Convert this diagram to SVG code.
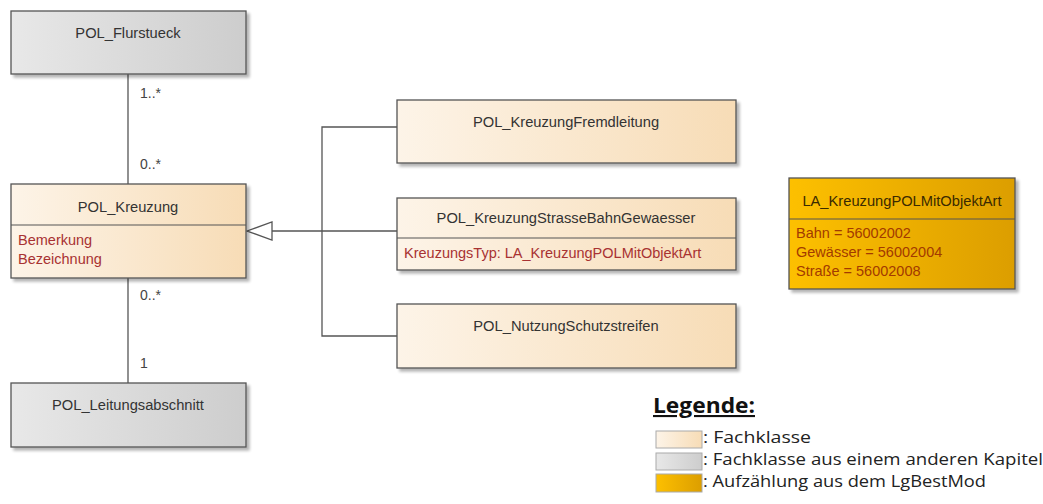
<svg xmlns="http://www.w3.org/2000/svg" width="1043" height="504" viewBox="0 0 1043 504">
<defs>
<linearGradient id="gBeige" x1="0" y1="0" x2="1" y2="0">
<stop offset="0" stop-color="#fdf4e8"/>
<stop offset="1" stop-color="#f7dcb6"/>
</linearGradient>
<linearGradient id="gGray" x1="0" y1="0" x2="1" y2="0">
<stop offset="0" stop-color="#e8e8e8"/>
<stop offset="1" stop-color="#cdcdcd"/>
</linearGradient>
<linearGradient id="gOrange" x1="0" y1="0" x2="1" y2="0">
<stop offset="0" stop-color="#fdc000"/>
<stop offset="1" stop-color="#dc9e00"/>
</linearGradient>
<filter id="sh" x="-5%" y="-5%" width="115%" height="130%">
<feGaussianBlur in="SourceAlpha" stdDeviation="1.5"/>
<feOffset dx="3" dy="3" result="b"/>
<feComponentTransfer><feFuncA type="linear" slope="0.3"/></feComponentTransfer>
<feMerge><feMergeNode/><feMergeNode in="SourceGraphic"/></feMerge>
</filter>
</defs>
<style>
.box{stroke:#555;stroke-width:1.3;filter:url(#sh)}
.beige{fill:url(#gBeige)}
.gray{fill:url(#gGray)}
.orange{fill:url(#gOrange)}
.div{stroke:#555;stroke-width:1.2}
.t{font-family:"Liberation Sans",Arial,sans-serif;font-size:14.7px;fill:#333}
.c{text-anchor:middle}
.a{font-family:"Liberation Sans",Arial,sans-serif;font-size:14.5px;fill:#a83232}
.ea{font-family:"Liberation Sans",Arial,sans-serif;font-size:14.5px;fill:#a33a00}
.m{font-family:"Liberation Sans",Arial,sans-serif;font-size:14px;fill:#444}
.ln{stroke:#555;stroke-width:1.3;fill:none}
.lg{font-family:"Open Sans","Liberation Sans",sans-serif;font-size:16px;fill:#222}
</style>
<rect width="1043" height="504" fill="#fff"/>

<g id="connectors">
<line class="ln" x1="128" y1="74" x2="128" y2="184"/>
<text class="m" x="140" y="98">1..*</text>
<text class="m" x="140" y="169">0..*</text>
<line class="ln" x1="128" y1="278" x2="128" y2="383"/>
<text class="m" x="140" y="300">0..*</text>
<text class="m" x="140" y="368">1</text>
<path class="ln" d="M397 127 H322 V336 H397"/>
<line class="ln" x1="272" y1="231" x2="397" y2="231"/>
<polygon points="247,231 272,222 272,240" fill="#fff" stroke="#555" stroke-width="1.3"/>
</g>

<g id="POL_Flurstueck">
<rect class="box gray" x="11" y="11" width="235" height="63"/>
<text class="t c" x="128" y="38">POL_Flurstueck</text>
</g>

<g id="POL_Kreuzung">
<rect class="box beige" x="11" y="184" width="235" height="94"/>
<line class="div" x1="11" y1="225" x2="246" y2="225"/>
<text class="t c" x="128" y="212">POL_Kreuzung</text>
<text class="a" x="18" y="245">Bemerkung</text>
<text class="a" x="18" y="264">Bezeichnung</text>
</g>

<g id="POL_Leitungsabschnitt">
<rect class="box gray" x="11" y="383" width="235" height="64"/>
<text class="t c" x="128" y="410">POL_Leitungsabschnitt</text>
</g>

<g id="POL_KreuzungFremdleitung">
<rect class="box beige" x="397" y="100" width="339" height="63"/>
<text class="t c" x="566" y="127">POL_KreuzungFremdleitung</text>
</g>

<g id="POL_KreuzungStrasseBahnGewaesser">
<rect class="box beige" x="397" y="198" width="339" height="72"/>
<line class="div" x1="397" y1="238" x2="736" y2="238"/>
<text class="t c" x="566" y="223">POL_KreuzungStrasseBahnGewaesser</text>
<text class="a" x="404" y="258">KreuzungsTyp: LA_KreuzungPOLMitObjektArt</text>
</g>

<g id="POL_NutzungSchutzstreifen">
<rect class="box beige" x="397" y="304" width="339" height="64"/>
<text class="t c" x="566" y="331">POL_NutzungSchutzstreifen</text>
</g>

<g id="LA_KreuzungPOLMitObjektArt">
<rect class="box orange" x="789" y="178" width="226" height="111"/>
<line class="div" x1="789" y1="219" x2="1015" y2="219"/>
<text class="t c" x="902" y="206" style="fill:#3a2a00">LA_KreuzungPOLMitObjektArt</text>
<text class="ea" x="796" y="238">Bahn = 56002002</text>
<text class="ea" x="796" y="257">Gewässer = 56002004</text>
<text class="ea" x="796" y="276">Straße = 56002008</text>
</g>

<g id="legend">
<text x="653" y="413" font-family="'Open Sans','Liberation Sans',sans-serif" font-size="21" font-weight="bold" fill="#111" text-decoration="underline" textLength="102" lengthAdjust="spacingAndGlyphs">Legende:</text>
<rect x="656" y="431" width="46" height="17" fill="url(#gBeige)" stroke="#aaa" stroke-width="1"/>
<rect x="656" y="453" width="46" height="17" fill="url(#gGray)" stroke="#aaa" stroke-width="1"/>
<rect x="656" y="474" width="46" height="18" fill="url(#gOrange)" stroke="#aaa" stroke-width="1"/>
<text class="lg" x="703" y="443" textLength="108" lengthAdjust="spacingAndGlyphs">: Fachklasse</text>
<text class="lg" x="703" y="465" textLength="340" lengthAdjust="spacingAndGlyphs">: Fachklasse aus einem anderen Kapitel</text>
<text class="lg" x="703" y="487" textLength="283" lengthAdjust="spacingAndGlyphs">: Aufzählung aus dem LgBestMod</text>
</g>
</svg>
